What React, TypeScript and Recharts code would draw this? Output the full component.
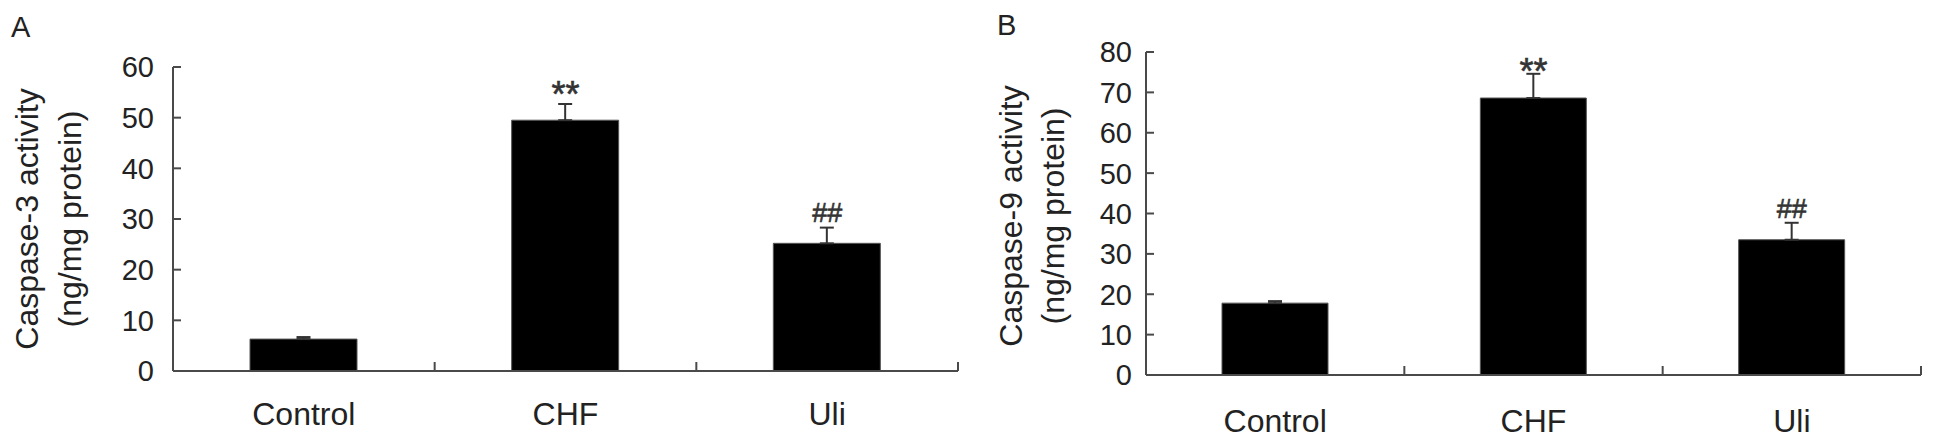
import React from 'react';
import { ComposedChart, Bar, XAxis, YAxis, ErrorBar, ReferenceDot } from 'recharts';

const categories = ['Control', 'CHF', 'Uli'];
const caspase3Mean = [6.3, 49.5, 25.2];
const caspase3Sem = [0.4, 3.2, 3.1];
const caspase9Mean = [17.8, 68.6, 33.5];
const caspase9Sem = [0.5, 6.0, 4.2];
const significance = ['', '**', '##'];
const caspase3Ticks = [0, 10, 20, 30, 40, 50, 60];
const caspase9Ticks = [0, 10, 20, 30, 40, 50, 60, 70, 80];

const FONT = '"Liberation Sans", Arial, Helvetica, sans-serif';
const INK = '#222';
const AXIS = '#4a4a4a';
const TICK_OFFSET = 8; // tickSize + tickMargin on both axes

const buildRows = (mean: number[], sem: number[]) =>
  categories.map((name, i) => ({
    name,
    mean: mean[i],
    sem: sem[i],
    errRange: [0, sem[i]],
    sig: significance[i],
  }));

interface PanelProps {
  letter: string
  title: string[]
  rows: ReturnType<typeof buildRows>
  ticks: number[]
  left: number
  width: number
  margin: { top: number; right: number; bottom: number; left: number }
  yAxisWidth: number
  xAxisHeight: number
  barSize: number
  tickGap: number
  labelDy: number
  titleX: [number, number]
  titleY: number
  letterPos: [number, number]
  starDy: number
  hashDy: number
}

const HEIGHT = 445;

function Panel(p: PanelProps) {
  const plotWidth = p.width - p.margin.left - p.margin.right - p.yAxisWidth;
  const band = plotWidth / categories.length;
  const top = p.ticks[p.ticks.length - 1];

  const yTick = (t: any) => {
    const ax = t.x + TICK_OFFSET;
    return (
      <g>
        <line x1={ax} x2={ax + 8} y1={t.y} y2={t.y} stroke={AXIS} strokeWidth={2} />
        <text x={ax - p.tickGap} y={t.y} dy="0.36em" textAnchor="end" fontSize={29} fill={INK} fontFamily={FONT}>
          {t.payload.value}
        </text>
      </g>
    );
  };

  const xTick = (t: any) => {
    const ay = t.y - TICK_OFFSET;
    const half = t.payload && t.payload.offset > 0 ? t.payload.offset : band / 2;
    return (
      <g>
        <line x1={t.x + half} x2={t.x + half} y1={ay} y2={ay - 9} stroke={AXIS} strokeWidth={2} />
        <text x={t.x} y={ay + p.labelDy} textAnchor="middle" fontSize={32} fill={INK} fontFamily={FONT}>
          {t.payload.value}
        </text>
      </g>
    );
  };

  const sigLabel = (l: any) => {
    const vb = l.viewBox || {};
    const star = l.value === '**';
    return (
      <text
        x={vb.x}
        y={vb.y + (star ? p.starDy : p.hashDy)}
        textAnchor="middle"
        fontSize={star ? 36 : 27}
        fill="#333"
        stroke="#333"
        strokeWidth={0.6}
        fontFamily={FONT}
      >
        {l.value}
      </text>
    );
  };

  return (
    <div style={{ position: 'absolute', left: p.left, top: 0, width: p.width, height: HEIGHT }}>
      <ComposedChart width={p.width} height={HEIGHT} data={p.rows} margin={p.margin}>
        <XAxis
          dataKey="name"
          height={p.xAxisHeight}
          interval={0}
          tickSize={4}
          tickMargin={4}
          tickLine={false}
          axisLine={{ stroke: AXIS, strokeWidth: 2 }}
          tick={xTick}
        />
        <YAxis
          width={p.yAxisWidth}
          domain={[0, top]}
          ticks={p.ticks}
          interval={0}
          tickSize={4}
          tickMargin={4}
          tickLine={false}
          axisLine={{ stroke: AXIS, strokeWidth: 2 }}
          tick={yTick}
        />
        <Bar dataKey="mean" fill="#000" stroke="#555" strokeWidth={1} barSize={p.barSize} isAnimationActive={false}>
          <ErrorBar dataKey="errRange" width={7} stroke="#333" strokeWidth={2} direction="y" isAnimationActive={false} />
        </Bar>
        {p.rows
          .filter((r) => r.sig)
          .map((r) => (
            <ReferenceDot
              key={r.name}
              x={r.name}
              y={r.mean + r.sem}
              r={0}
              fill="none"
              stroke="none"
              label={{ value: r.sig, content: sigLabel }}
            />
          ))}
      </ComposedChart>
      <svg
        width={p.width}
        height={HEIGHT}
        style={{ position: 'absolute', left: 0, top: 0, pointerEvents: 'none' }}
      >
        <text x={p.letterPos[0]} y={p.letterPos[1]} fontSize={29} fill={INK} fontFamily={FONT}>
          {p.letter}
        </text>
        {p.title.map((line, i) => (
          <text
            key={line}
            transform={`translate(${p.titleX[i]}, ${p.titleY}) rotate(-90)`}
            textAnchor="middle"
            fontSize={32}
            fill={INK}
            fontFamily={FONT}
          >
            {line}
          </text>
        ))}
      </svg>
    </div>
  );
}

export default function App() {
  return (
    <div style={{ position: 'absolute', left: 0, top: 0, width: 1934, height: HEIGHT, background: '#fff' }}>
      <Panel
        letter="A"
        title={['Caspase-3 activity', '(ng/mg protein)']}
        rows={buildRows(caspase3Mean, caspase3Sem)}
        ticks={caspase3Ticks}
        left={0}
        width={970}
        margin={{ top: 67, right: 12, bottom: 0, left: 0 }}
        yAxisWidth={173}
        xAxisHeight={74}
        barSize={107}
        tickGap={19}
        labelDy={54}
        titleX={[38, 81]}
        titleY={219}
        letterPos={[11, 37]}
        starDy={3}
        hashDy={-6}
      />
      <Panel
        letter="B"
        title={['Caspase-9 activity', '(ng/mg protein)']}
        rows={buildRows(caspase9Mean, caspase9Sem)}
        ticks={caspase9Ticks}
        left={970}
        width={964}
        margin={{ top: 52, right: 13, bottom: 0, left: 0 }}
        yAxisWidth={176}
        xAxisHeight={70}
        barSize={106}
        tickGap={14}
        labelDy={57}
        titleX={[52, 94]}
        titleY={216}
        letterPos={[27, 35]}
        starDy={10}
        hashDy={-5}
      />
    </div>
  );
}
